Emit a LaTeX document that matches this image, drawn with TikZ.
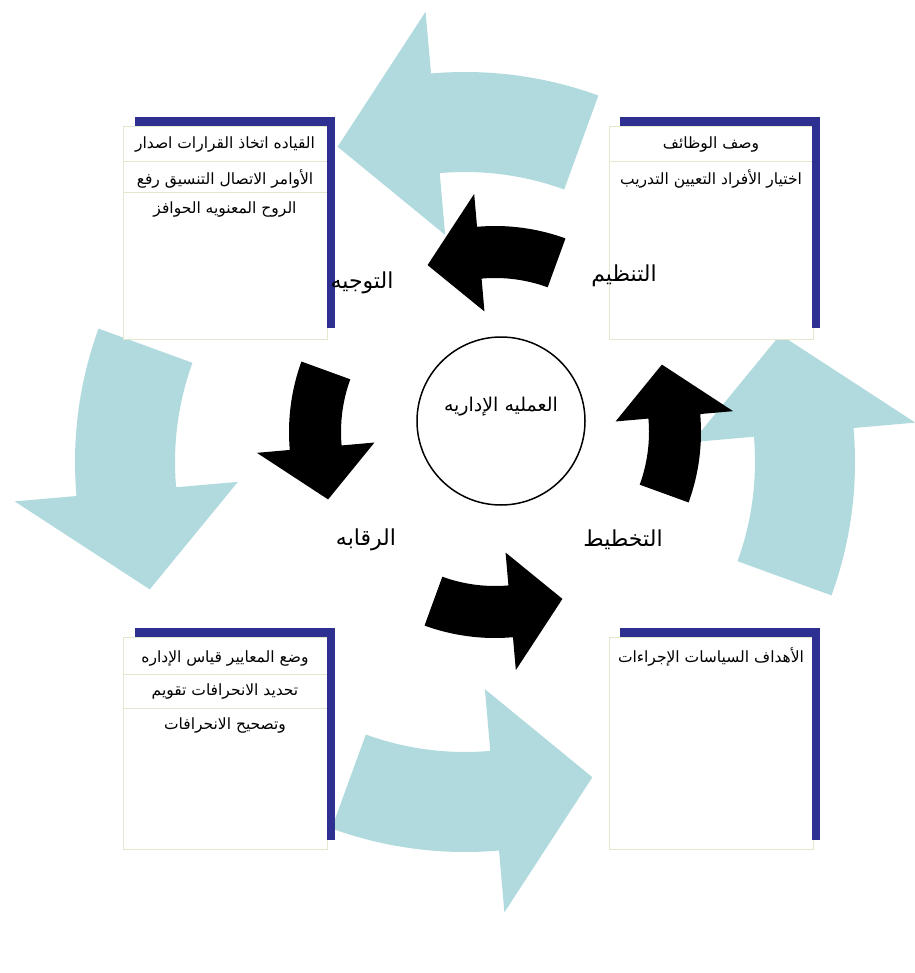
\documentclass[tikz,border=0pt]{standalone}
\usepackage{fontspec}
\newfontfamily\arabicfont[Script=Arabic]{DejaVu Sans}
\TeXXeTstate=1

\definecolor{ringblue}{RGB}{176,218,222}
\definecolor{barblue}{RGB}{45,47,145}
\definecolor{boxline}{RGB}{226,232,204}

\newcommand{\artext}[1]{\arabicfont\beginR #1\endR}

\newcommand{\cyclearrow}[6]{%
  \begin{scope}[shift={#2}, yscale=-1]
    \pgfmathsetmacro\rOut{#3+#4/2}
    \pgfmathsetmacro\rIn{#3-#4/2}
    \pgfmathsetmacro\hOut{#3+#5/2}
    \pgfmathsetmacro\hIn{#3-#5/2}
    \pgfmathsetmacro\aTail{#6-20}
    \pgfmathsetmacro\aBase{#6+5}
    \pgfmathsetmacro\aTip{#6+22}
    \fill[#1] (\aTail:\rOut) arc[start angle=\aTail, end angle=\aBase, radius=\rOut]
      -- (\aBase:\hOut) -- (\aTip:#3) -- (\aBase:\hIn) -- (\aBase:\rIn)
      arc[start angle=\aBase, end angle=\aTail, radius=\rIn] -- cycle;
  \end{scope}}

\begin{document}
\begin{tikzpicture}[x=1pt,y=-1pt,
  panel/.style={draw=boxline, fill=white, line width=1pt, minimum width=204pt, minimum height=212pt, inner sep=0pt},
  rule/.style={draw=boxline, line width=1pt},
  bar/.style={fill=barblue},
  boxtext/.style={font=\fontsize{15.5}{18}\selectfont, inner sep=0pt},
  phase/.style={font=\fontsize{22}{26}\selectfont, inner sep=1pt},
  hub/.style={draw, circle, line width=1.5pt, minimum size=168pt, inner sep=0pt}]
\useasboundingbox (0,0) rectangle (914,973);

\cyclearrow{ringblue}{(465,462)}{340}{100}{224}{90}
\cyclearrow{ringblue}{(465,462)}{340}{100}{224}{180}
\cyclearrow{ringblue}{(465,462)}{340}{100}{224}{270}
\cyclearrow{ringblue}{(465,462)}{340}{100}{224}{0}

\node[panel] (tlbox) at (225,233) {};
\node[panel] (trbox) at (711,233) {};
\node[panel] (blbox) at (225,743) {};
\node[panel] (brbox) at (711,743) {};
\draw[rule] (123,162) -- (327,162);
\draw[rule] (123,193) -- (327,193);
\draw[rule] (610,162) -- (813,162);
\draw[rule] (123,674) -- (327,674);
\draw[rule] (123,708) -- (327,708);
\fill[bar] (135,117) rectangle (335,126);
\fill[bar] (327,117) rectangle (335,328);
\fill[bar] (620,117) rectangle (820,126);
\fill[bar] (812,117) rectangle (820,328);
\fill[bar] (135,628) rectangle (335,637);
\fill[bar] (327,628) rectangle (335,840);
\fill[bar] (620,628) rectangle (820,637);
\fill[bar] (812,628) rectangle (820,840);

\node[boxtext] (tl1) at (225,145) {\artext{القياده اتخاذ القرارات اصدار}};
\node[boxtext] (tl2) at (225,179) {\artext{الأوامر الاتصال التنسيق رفع}};
\node[boxtext] (tl3) at (225,210) {\artext{الروح المعنويه الحوافز}};
\node[boxtext] (tr1) at (711,145) {\artext{وصف الوظائف}};
\node[boxtext] (tr2) at (711,179) {\artext{اختيار الأفراد التعيين التدريب}};
\node[boxtext] (bl1) at (225,658) {\artext{وضع المعايير قياس الإداره}};
\node[boxtext] (bl2) at (225,691) {\artext{تحديد الانحرافات تقويم}};
\node[boxtext] (bl3) at (225,725) {\artext{وتصحيح الانحرافات}};
\node[boxtext] (br1) at (711,657) {\artext{الأهداف السياسات الإجراءات}};

\cyclearrow{black}{(495,432)}{180}{52}{118}{90}
\cyclearrow{black}{(495,432)}{180}{52}{118}{180}
\cyclearrow{black}{(495,432)}{180}{52}{118}{270}
\cyclearrow{black}{(495,432)}{180}{52}{118}{0}

\node[hub] (hub) at (501,421) {};
\node[font=\fontsize{19}{22}\selectfont] (hubtext) at ([yshift=14pt]hub.center) {\artext{العمليه الإداريه}};

\node[phase] (directing) at (362,283) {\artext{التوجيه}};
\node[phase] (organizing) at (624,276) {\artext{التنظيم}};
\node[phase] (controlling) at (366,540) {\artext{الرقابه}};
\node[phase] (planning) at (623,540) {\artext{التخطيط}};
\end{tikzpicture}
\end{document}
